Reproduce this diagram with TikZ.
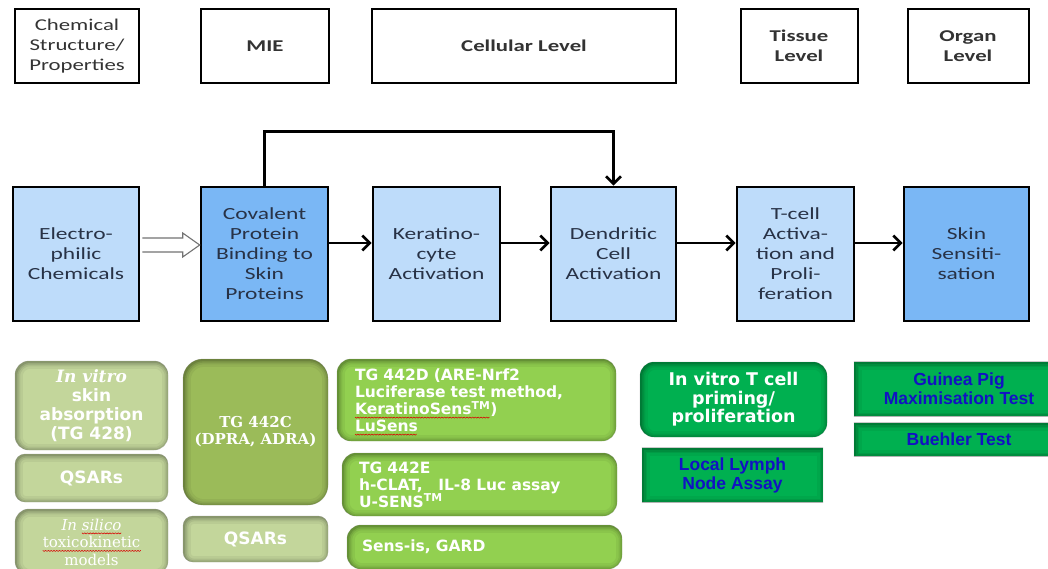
\documentclass[tikz,border=0pt]{standalone}
\usepackage{fontspec}
\usetikzlibrary{arrows.meta,calc}
\newfontfamily\slide[FakeStretch=1.38]{Carlito}
\newfontfamily\verd{DejaVu Sans}
\newfontfamily\geo{DejaVu Serif}
\newfontfamily\ari{Liberation Sans}

\definecolor{lightblue}{RGB}{190,220,250}
\definecolor{midblue}{RGB}{122,183,245}
\definecolor{olivelt}{RGB}{195,214,155}
\definecolor{olivedk}{RGB}{155,187,89}
\definecolor{limegr}{RGB}{146,208,80}
\definecolor{deepgr}{RGB}{0,176,80}
\definecolor{testblue}{RGB}{18,18,195}
\definecolor{slate}{RGB}{40,50,70}

% red wavy spell-check mark under a word, built from zigzag tiles
\newlength\spw
\newcount\spn
\newsavebox\wavetile
\sbox\wavetile{\hbox to 2.8pt{\special{pdf:content q 0.85 0 0 RG 0.55 w 1 j 0 -2.7 m 1.4 -3.9 l 2.8 -2.7 l S Q}\hfil}}
\newcommand\spellmark[1]{\leavevmode\hbox{\settowidth\spw{#1}\spn=\numexpr\spw/183501\relax
  \rlap{\loop\ifnum\spn>0 \usebox\wavetile\advance\spn by -1 \repeat}#1}}

\tikzset{
  lvl/.style={draw=black, line width=2pt, fill=white, text=black!80,
    inner sep=0pt, align=center, font=\slide\fontsize{16.5}{20}\selectfont},
  lvlb/.style={lvl, font=\slide\bfseries\fontsize{16.5}{20}\selectfont},
  stage/.style={draw=black, line width=2.6pt, fill=lightblue, text=slate,
    inner sep=0pt, align=center, font=\slide\fontsize{17}{20}\selectfont},
  keystage/.style={stage, fill=midblue},
  arr/.style={line width=2.7pt, -{Straight Barb[length=7.5pt,width=15pt]}},
  hollow/.style={draw=black!55, line width=1.1pt, fill=white},
  gbox/.style={rounded corners=#1, inner sep=0pt, align=center, text=white},
  vbold/.style={font=\verd\bfseries\fontsize{17}{19}\selectfont},
  vlist/.style={font=\verd\bfseries\fontsize{15.5}{17}\selectfont, align=left},
  abold/.style={font=\ari\bfseries\fontsize{17.5}{19}\selectfont, text=testblue},
}

\begin{document}
\begin{tikzpicture}[x=1pt,y=-1pt]
\clip (0,0) rectangle (1048,568);
\fill[white] (0,0) rectangle (1048,568);

% level headers
\node[lvl, minimum width=124pt, minimum height=74pt] (t1) at (77,46) {Chemical\\Structure/\\Properties};
\node[lvlb, minimum width=128pt, minimum height=74pt] (t2) at (265,46) {MIE};
\node[lvlb, minimum width=304pt, minimum height=74pt] (t3) at (524,46) {Cellular Level};
\node[lvlb, minimum width=117pt, minimum height=74pt] (t4) at (799,46) {Tissue\\Level};
\node[lvlb, minimum width=121pt, minimum height=74pt] (t5) at (968,46) {Organ\\Level};

% pathway stages
\node[stage, minimum width=126pt, minimum height=134pt] (m1) at (76,254) {Electro-\\philic\\Chemicals};
\node[keystage, minimum width=127pt, minimum height=134pt] (m2) at (264.5,254) {Covalent\\Protein\\Binding to\\Skin\\Proteins};
\node[stage, minimum width=127pt, minimum height=134pt] (m3) at (436.5,254) {Keratino-\\cyte\\Activation};
\node[stage, minimum width=125pt, minimum height=134pt] (m4) at (613.5,254) {Dendritic\\Cell\\Activation};
\node[stage, minimum width=117pt, minimum height=134pt] (m5) at (795.5,254) {T-cell\\Activa-\\tion and\\Proli-\\feration};
\node[keystage, minimum width=125pt, minimum height=134pt] (m6) at (966.5,254) {Skin\\Sensiti-\\sation};

% hollow arrow into the MIE
\coordinate (ha) at ([yshift=9pt]m1.east);
\coordinate (hb) at ([yshift=9pt]m2.west);
\draw[hollow] ($(ha)+(2,-7)$) -- ($(hb)+(-17,-7)$) -- ($(hb)+(-17,-12)$) -- (hb)
  -- ($(hb)+(-17,12)$) -- ($(hb)+(-17,7)$) -- ($(ha)+(2,7)$);

% stage-to-stage arrows
\draw[arr] ([yshift=11pt]m2.east) -- ([yshift=11pt]m3.west);
\draw[arr] ([yshift=11pt]m3.east) -- ([yshift=11pt]m4.west);
\draw[arr] ([yshift=11pt]m4.east) -- ([yshift=11pt]m5.west);
\draw[arr] ([yshift=11pt]m5.east) -- ([yshift=11pt]m6.west);
\draw[arr] (m2.north) |- ($(m4.north)+(0,-54)$) -- (m4.north);

% test methods: chemical structure
\node[gbox=14pt, fill=olivelt, minimum width=153pt, minimum height=89pt, vbold] (b1) at (91.5,405.5)
  {{\geo\bfseries\itshape In vitro}\\skin\\absorption\\(TG 428)};
\node[gbox=10pt, fill=olivelt, minimum width=153pt, minimum height=48pt, vbold] (b2) at (91.5,478) {QSARs};
\node[gbox=14pt, fill=olivelt, minimum width=153pt, minimum height=66pt, font=\geo\fontsize{15}{17.5}\selectfont] (b3) at (91.5,542)
  {{\itshape In \spellmark{silico}}\\\spellmark{toxicokinetic}\\models};

% test methods: MIE
\node[gbox=20pt, fill=olivedk, minimum width=145pt, minimum height=146pt, font=\geo\bfseries\fontsize{15}{17}\selectfont] (b4) at (255.5,432)
  {TG 442C\\(DPRA, ADRA)};
\node[gbox=10pt, fill=olivelt, minimum width=145pt, minimum height=46pt, vbold] (b5) at (255.5,539) {QSARs};

% test methods: cellular level
\node[gbox=14pt, fill=limegr, minimum width=279pt, minimum height=82pt, vlist, inner xsep=18pt, text width=243pt] (b6) at (476.5,400)
  {TG 442D (ARE-Nrf2\\Luciferase test method,\\\spellmark{KeratinoSens\textsuperscript{TM}})\\\spellmark{LuSens}};
\node[gbox=14pt, fill=limegr, minimum width=275pt, minimum height=63pt, vlist, inner xsep=17pt, text width=241pt] (b7) at (479.5,484.5)
  {TG 442E\\h-CLAT,\ \ \ IL-8 Luc assay\\U-SENS\textsuperscript{TM}};
\node[gbox=14pt, fill=limegr, minimum width=275pt, minimum height=44pt, vlist, inner xsep=15pt, text width=245pt] (b8) at (484.5,547)
  {Sens-is, GARD};

% test methods: tissue level
\node[gbox=14pt, fill=deepgr, minimum width=187pt, minimum height=75pt, font=\verd\bfseries\fontsize{17.5}{18.5}\selectfont] (b9) at (733.5,399.5)
  {In vitro T cell\\priming/\\proliferation};
\node[gbox=0pt, fill=deepgr, minimum width=181pt, minimum height=54pt, abold] (b10) at (732.5,475)
  {Local Lymph\\Node Assay};

% test methods: organ level
\node[gbox=0pt, fill=deepgr, minimum width=210pt, minimum height=54pt, abold] (b11) at (959,389)
  {Guinea Pig\\Maximisation Test};
\node[gbox=0pt, fill=deepgr, minimum width=210pt, minimum height=33pt, abold] (b12) at (959,439.5)
  {Buehler Test};

% inner shadow along the edges of the test-method boxes
\foreach \n/\r in {b1/14pt,b2/10pt,b3/14pt,b4/20pt,b5/10pt,b6/14pt,b7/14pt,b8/14pt,b9/14pt,b10/0pt,b11/0pt,b12/0pt}{
  \begin{scope}
    \clip[rounded corners=\r] (\n.south west) rectangle (\n.north east);
    \foreach \w/\o in {14/0.05,9/0.07,5.5/0.09,2.5/0.12}{
      \draw[line width=\w pt, draw=black, opacity=\o, rounded corners=\r]
        ([shift={(1pt,-1pt)}]\n.south west) rectangle ([shift={(1pt,-1pt)}]\n.north east);
    }
  \end{scope}
}
\end{tikzpicture}
\end{document}
